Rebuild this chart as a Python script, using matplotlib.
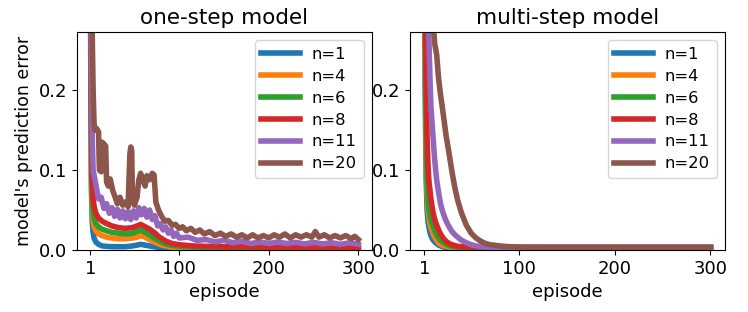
import matplotlib
matplotlib.use("Agg")
import matplotlib.pyplot as plt

labels = ["n=1", "n=4", "n=6", "n=8", "n=11", "n=20"]
colors = ["#1f77b4", "#ff7f0e", "#2ca02c", "#d62728", "#9467bd", "#8c564b"]

# ---- one-step model ----
one_ep = [1, 2, 3, 4, 5, 7, 10, 14, 19, 25, 32, 40, 48, 53, 57, 62, 67, 72, 78, 85,
          92, 100, 115, 130, 150, 175, 200, 225, 250, 275, 300]
one_n1 = [0.32, 0.08, 0.035, 0.022, 0.015, 0.010, 0.007, 0.005, 0.0045, 0.004, 0.004,
          0.004, 0.005, 0.006, 0.007, 0.006, 0.005, 0.004, 0.003, 0.002, 0.0018, 0.0015,
          0.0013, 0.0012, 0.0011, 0.001, 0.001, 0.001, 0.001, 0.001, 0.001]
one_n4 = [0.35, 0.11, 0.055, 0.036, 0.029, 0.024, 0.020, 0.018, 0.016, 0.015, 0.014,
          0.014, 0.015, 0.016, 0.018, 0.016, 0.013, 0.010, 0.007, 0.005, 0.0035, 0.003,
          0.0025, 0.0022, 0.002, 0.002, 0.002, 0.002, 0.002, 0.002, 0.002]
one_n6 = [0.38, 0.14, 0.07, 0.048, 0.040, 0.033, 0.029, 0.026, 0.024, 0.022, 0.021,
          0.020, 0.021, 0.023, 0.025, 0.022, 0.019, 0.015, 0.011, 0.0075, 0.0055, 0.0045,
          0.0035, 0.003, 0.0028, 0.0027, 0.0026, 0.0025, 0.0025, 0.0025, 0.0025]
one_n8 = [0.40, 0.18, 0.09, 0.065, 0.055, 0.046, 0.040, 0.036, 0.033, 0.030, 0.028,
          0.027, 0.028, 0.030, 0.032, 0.029, 0.026, 0.022, 0.016, 0.011, 0.008, 0.0065,
          0.005, 0.0045, 0.004, 0.004, 0.0035, 0.0035, 0.0035, 0.0035, 0.003]
one_ep11 = [1, 2, 3, 4, 7, 10, 13, 16, 19, 22, 25, 28, 31, 34, 37, 40, 43, 46, 49, 52,
            55, 58, 61, 64, 67, 70, 73, 76, 79, 82, 85, 88, 91, 94, 97, 100, 110, 120,
            130, 140, 150, 160, 170, 180, 190, 200, 210, 220, 230, 240, 250, 260, 270,
            280, 290, 300]
one_n11 = [0.45, 0.25, 0.14, 0.100, 0.082, 0.064, 0.066, 0.052, 0.058, 0.046, 0.053,
           0.042, 0.051, 0.040, 0.049, 0.039, 0.048, 0.038, 0.049, 0.040, 0.053, 0.044,
           0.052, 0.041, 0.050, 0.038, 0.043, 0.030, 0.033, 0.025, 0.029, 0.021, 0.025,
           0.017, 0.021, 0.015, 0.016, 0.012, 0.013, 0.010, 0.012, 0.009, 0.011, 0.008,
           0.010, 0.008, 0.010, 0.008, 0.0095, 0.0075, 0.0095, 0.0075, 0.009, 0.007,
           0.009, 0.007]
one_ep20 = [1, 2, 3, 4, 5, 6, 8, 10, 11, 13, 14, 16, 18, 19, 21, 23, 26, 28, 31, 34, 37,
            40, 43, 45, 46, 47, 48, 50, 53, 55, 57, 60, 62, 64, 67, 70, 72, 74, 77, 80,
            84, 88, 92, 96, 100, 104, 108, 113, 118, 123, 128, 134, 140, 146, 152, 158,
            164, 170, 176, 182, 188, 194, 200, 206, 212, 218, 224, 230, 236, 242, 248,
            252, 256, 262, 268, 274, 280, 286, 292, 296, 300]
one_n20 = [0.55, 0.38, 0.27, 0.20, 0.16, 0.15, 0.152, 0.148, 0.10, 0.098, 0.135, 0.133,
           0.130, 0.085, 0.080, 0.089, 0.074, 0.068, 0.058, 0.066, 0.056, 0.060, 0.054,
           0.12, 0.129, 0.125, 0.062, 0.056, 0.066, 0.088, 0.096, 0.086, 0.080, 0.093,
           0.088, 0.096, 0.094, 0.060, 0.050, 0.043, 0.036, 0.037, 0.031, 0.032, 0.027,
           0.029, 0.024, 0.027, 0.022, 0.025, 0.020, 0.023, 0.018, 0.021, 0.017, 0.020,
           0.016, 0.019, 0.015, 0.019, 0.015, 0.018, 0.015, 0.019, 0.016, 0.020, 0.015,
           0.019, 0.016, 0.019, 0.016, 0.023, 0.016, 0.019, 0.015, 0.018, 0.015, 0.018,
           0.014, 0.017, 0.013]

# ---- multi-step model ----
multi_ep = [1, 2, 3, 4, 5, 6, 7, 8, 10, 12, 14, 16, 18, 20, 22, 24, 26, 28, 30, 33, 36,
            40, 45, 50, 55, 60, 65, 70, 80, 90, 100, 125, 150, 175, 200, 225, 250, 275, 300]
multi_n1 = [0.40, 0.20, 0.09, 0.05, 0.035, 0.028, 0.022, 0.018, 0.013, 0.010, 0.008,
            0.006, 0.005, 0.004, 0.0035, 0.003, 0.003, 0.003, 0.003, 0.0028, 0.0027,
            0.0026, 0.0025, 0.0025, 0.0025, 0.0025, 0.0025, 0.0025, 0.0025, 0.0025,
            0.0025, 0.0025, 0.0025, 0.0025, 0.0025, 0.0025, 0.0025, 0.0025, 0.0025]
multi_n4 = [0.42, 0.24, 0.12, 0.07, 0.050, 0.040, 0.033, 0.028, 0.021, 0.016, 0.012,
            0.009, 0.007, 0.006, 0.005, 0.0045, 0.004, 0.0035, 0.0035, 0.0033, 0.0032,
            0.003, 0.003, 0.003, 0.003, 0.003, 0.003, 0.003, 0.003, 0.003, 0.003, 0.003,
            0.003, 0.003, 0.003, 0.003, 0.003, 0.003, 0.003]
multi_n6 = [0.45, 0.28, 0.15, 0.09, 0.062, 0.050, 0.043, 0.038, 0.030, 0.024, 0.019,
            0.015, 0.012, 0.010, 0.0085, 0.007, 0.006, 0.005, 0.0045, 0.004, 0.0035,
            0.0035, 0.0032, 0.003, 0.003, 0.003, 0.003, 0.003, 0.003, 0.003, 0.003, 0.003,
            0.003, 0.003, 0.003, 0.003, 0.003, 0.003, 0.003]
multi_n8 = [0.50, 0.35, 0.22, 0.14, 0.105, 0.085, 0.075, 0.064, 0.048, 0.038, 0.031,
            0.025, 0.020, 0.016, 0.013, 0.0105, 0.009, 0.0075, 0.0065, 0.0055, 0.0045,
            0.004, 0.0035, 0.0033, 0.003, 0.003, 0.003, 0.003, 0.003, 0.003, 0.003, 0.003,
            0.003, 0.003, 0.003, 0.003, 0.003, 0.003, 0.003]
multi_n11 = [0.60, 0.50, 0.42, 0.36, 0.30, 0.26, 0.215, 0.18, 0.145, 0.112, 0.088,
             0.072, 0.058, 0.049, 0.042, 0.036, 0.031, 0.027, 0.023, 0.019, 0.016, 0.012,
             0.009, 0.0065, 0.005, 0.004, 0.0035, 0.003, 0.003, 0.003, 0.003, 0.003,
             0.003, 0.003, 0.003, 0.003, 0.003, 0.003, 0.003]
multi_n20 = [0.60, 0.55, 0.50, 0.45, 0.42, 0.38, 0.35, 0.32, 0.29, 0.258, 0.245, 0.215,
             0.195, 0.178, 0.160, 0.142, 0.128, 0.113, 0.098, 0.078, 0.062, 0.046, 0.031,
             0.021, 0.015, 0.011, 0.008, 0.0065, 0.005, 0.004, 0.0035, 0.0033, 0.0033,
             0.0033, 0.0033, 0.0033, 0.0033, 0.0033, 0.0033]

x_ticks = [1, 100, 200, 300]
y_ticks = [0.0, 0.1, 0.2]

fig = plt.figure(figsize=(7.48, 3.12), dpi=100)
ax1 = fig.add_axes([0.103, 0.199, 0.394, 0.698])
ax2 = fig.add_axes([0.548, 0.199, 0.421, 0.698])

one_series = [(one_ep, one_n1), (one_ep, one_n4), (one_ep, one_n6), (one_ep, one_n8),
              (one_ep11, one_n11), (one_ep20, one_n20)]
multi_series = [(multi_ep, multi_n1), (multi_ep, multi_n4), (multi_ep, multi_n6),
                (multi_ep, multi_n8), (multi_ep, multi_n11), (multi_ep, multi_n20)]

for ax, series, title in [(ax1, one_series, "one-step model"),
                          (ax2, multi_series, "multi-step model")]:
    for (xs, ys), lab, c in zip(series, labels, colors):
        ax.plot(xs, ys, color=c, lw=4, label=lab)
    ax.set_xlim(-13.95, 314.95)
    ax.set_ylim(0, 0.273)
    ax.set_xticks(x_ticks)
    ax.set_yticks(y_ticks)
    ax.tick_params(labelsize=13)
    ax.set_xlabel("episode", fontsize=13)
    ax.set_title(title, fontsize=15.5)
    ax.legend(loc="upper right", fontsize=11.8, labelspacing=0.42,
              handlelength=2.4, handletextpad=0.7)

ax1.set_ylabel("model's prediction error", fontsize=12.5)

fig.savefig("out.png", dpi=100)
